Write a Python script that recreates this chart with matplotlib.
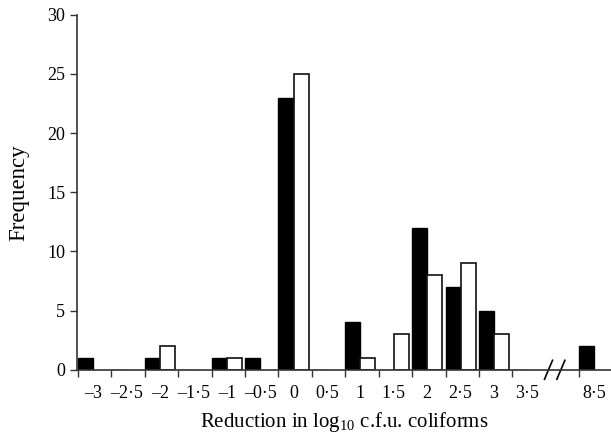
import numpy as np
import matplotlib
matplotlib.use('Agg')
import matplotlib.pyplot as plt

plt.rcParams['font.family'] = ['Liberation Serif', 'DejaVu Serif']
plt.rcParams['mathtext.fontset'] = 'custom'
plt.rcParams['mathtext.rm'] = 'Liberation Serif'

# reduction classes (log10 c.f.u.), 8.5 sits after an axis break
tick_labels = ['–3', '–2·5', '–2', '–1·5', '–1', '–0·5', '0', '0·5',
               '1', '1·5', '2', '2·5', '3', '3·5', '8·5']
positions = list(range(14)) + [15]

black_counts = [1, 0, 1, 0, 1, 1, 23, 0, 4, 0, 12, 7, 5, 0, 2]
white_counts = [0, 0, 2, 0, 1, 0, 25, 0, 1, 3, 8, 9, 3, 0, 0]

fig = plt.figure(figsize=(6.11, 4.33), dpi=100)
ax = fig.add_axes([0.126, 0.146, 0.874, 0.820])

w = 0.45
pos = np.array(positions, dtype=float)
ax.bar(pos, black_counts, width=w, align='edge', color='black',
       edgecolor='black', linewidth=1)
wmask = np.array(white_counts) > 0
ax.bar(pos[wmask] + w, np.array(white_counts)[wmask], width=w, align='edge',
       color='white', edgecolor='#111111', linewidth=1.2)

ax.set_xlim(-0.03, 15.95)
ax.set_ylim(0, 30)
ax.set_yticks(range(0, 31, 5))
# tick marks at the left edge of each pair, labels centred under the pair
ax.set_xticks(positions)
ax.set_xticklabels([])
ax.set_xticks(pos + w, minor=True)
ax.set_xticklabels(tick_labels, minor=True)

for s in ['top', 'right']:
    ax.spines[s].set_visible(False)
for s in ['left', 'bottom']:
    ax.spines[s].set_color('#333333')
    ax.spines[s].set_linewidth(1.2)

ax.tick_params(axis='both', which='major', direction='out', length=5, width=1,
               color='#333333', labelsize=13)
ax.tick_params(axis='x', which='minor', length=0, labelsize=13, pad=11)

# break marks between 3.5 and 8.5
for bx in (14.08, 14.45):
    ax.plot([bx - 0.12, bx + 0.12], [-0.8, 0.8], color='black',
            linewidth=1.2, clip_on=False)

ax.set_ylabel('Frequency', fontsize=16.5, labelpad=12.5)
ax.set_xlabel('Reduction in log$_{10}$ c.f.u. coliforms', fontsize=15, labelpad=6)

fig.savefig('out.png', dpi=100)
